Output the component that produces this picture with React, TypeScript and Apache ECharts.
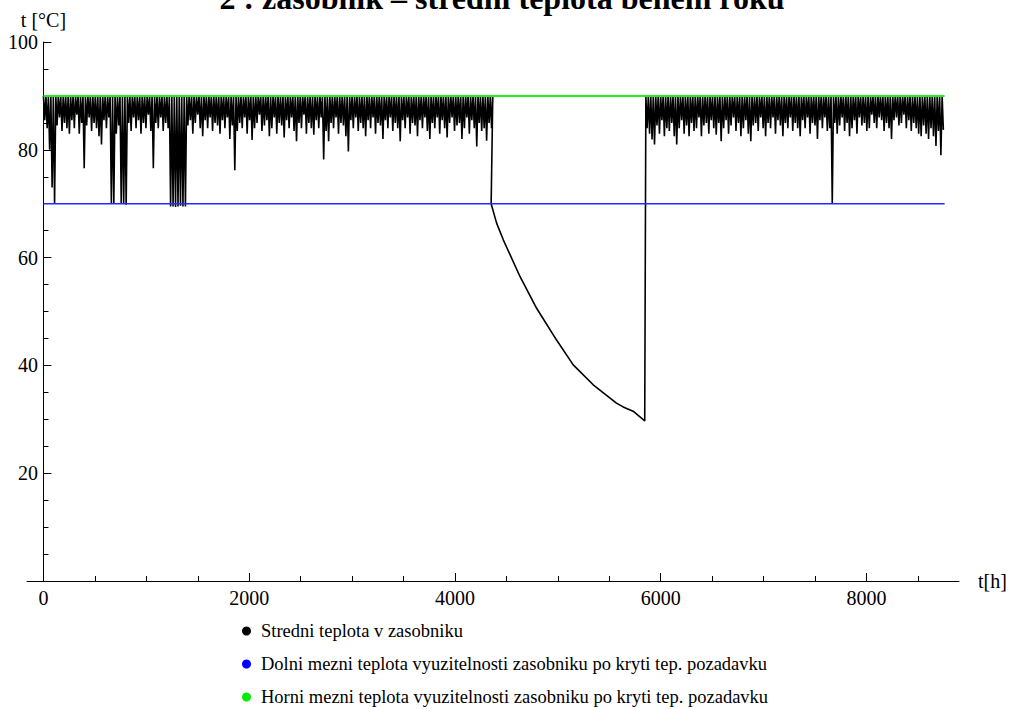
import React, { useEffect, useRef } from "react";
import * as echarts from "echarts";

const TITLE = "2 : zasobnik – stredni teplota behem roku";
const SERIES_NAMES = [
  "Stredni teplota v zasobniku",
  "Dolni mezni teplota vyuzitelnosti zasobniku po kryti tep. pozadavku",
  "Horni mezni teplota vyuzitelnosti zasobniku po kryti tep. pozadavku",
];
const UPPER = 90;
const LOWER = 70;
const YEAR_END = 8760;
const HOURS_PER_DAY = 24;

// daily minimum temperatures, first period (days 0..181)
const SEG1_FIRST_DAY = 0;
const seg1Lows = [
  85.5, 84.0, 80.0, 73.0, 70.0, 84.5, 86.0, 83.5, 85.0, 84.0,
  83.0, 85.5, 84.0, 86.5, 83.0, 85.0, 76.6, 84.5, 86.0, 83.5,
  85.0, 84.0, 82.5, 81.0, 85.5, 84.0, 86.0, 70.0, 70.0, 83.0,
  84.5, 70.0, 70.0, 69.8, 85.0, 83.5, 86.0, 84.0, 85.5, 83.0,
  85.0, 84.0, 86.5, 83.5, 76.6, 85.0, 84.0, 86.0, 83.5, 85.0,
  84.0, 69.5, 69.5, 69.4, 69.5, 69.6, 69.5, 69.5, 84.5, 85.5,
  83.0, 85.0, 86.5, 84.0, 82.5, 85.5, 84.0, 86.0, 83.5, 85.0,
  84.5, 83.0, 85.5, 84.0, 86.0, 82.0, 84.5, 76.2, 83.5, 85.0,
  84.0, 86.0, 83.0, 85.5, 81.8, 84.0, 85.0, 86.5, 83.5, 84.5,
  85.5, 82.5, 84.0, 86.0, 83.0, 85.0, 84.5, 82.3, 85.5, 84.0,
  86.0, 83.5, 81.6, 85.0, 84.0, 86.5, 83.0, 85.0, 84.0, 82.8,
  85.5, 84.0, 86.0, 78.2, 83.5, 81.6, 85.0, 84.0, 86.0, 83.0,
  85.0, 84.5, 82.5, 79.7, 85.5, 84.0, 86.0, 83.5, 85.0, 84.0,
  82.5, 85.5, 84.0, 86.0, 83.0, 85.0, 84.5, 82.0, 85.5, 84.0,
  86.0, 83.5, 85.0, 84.0, 81.6, 85.5, 84.0, 86.0, 83.0, 85.0,
  84.5, 82.5, 85.5, 84.0, 86.0, 83.5, 82.0, 85.0, 84.0, 86.0,
  83.0, 85.5, 84.0, 82.3, 85.0, 86.0, 83.5, 84.5, 85.0, 82.0,
  84.0, 86.0, 83.0, 85.5, 84.0, 80.6, 85.0, 83.5, 84.0, 81.7,
  85.0, 84.0,
];

// cooling period without recharge
const decayHours = [4352, 4405, 4470, 4632, 4794, 4988, 5150, 5344, 5570, 5635, 5732, 5845];
const decayTemps = [70.0, 66.4, 63.3, 56.5, 50.6, 44.7, 40.1, 36.4, 33.0, 32.3, 31.5, 29.7];

// daily minimum temperatures, last period (days 244..364)
const SEG3_FIRST_DAY = 244;
const seg3Lows = [
  84.0, 83.0, 81.9, 81.0, 84.5, 83.0, 85.5, 82.5, 84.0, 83.5,
  85.0, 82.5, 81.0, 84.0, 85.5, 83.0, 84.5, 82.5, 85.0, 83.5,
  84.0, 86.0, 82.5, 84.5, 85.0, 83.0, 85.5, 84.0, 82.8, 85.0,
  81.6, 84.0, 85.5, 83.0, 84.5, 86.0, 83.5, 85.0, 82.5, 84.0,
  85.5, 83.0, 81.6, 84.5, 85.0, 83.5, 86.0, 84.0, 82.5, 85.0,
  84.0, 86.0, 83.0, 85.5, 84.5, 82.5, 85.0, 84.0, 86.0, 83.5,
  85.0, 84.0, 82.5, 85.5, 84.0, 86.0, 83.0, 85.0, 84.5, 82.0,
  85.5, 84.0, 86.0, 83.5, 84.0, 70.0, 85.0, 83.0, 84.5, 86.0,
  83.5, 85.0, 82.5, 84.0, 85.5, 83.0, 86.0, 84.5, 85.0, 83.5,
  84.0, 86.5, 85.0, 84.0, 86.0, 85.5, 83.5, 85.0, 84.0, 82.0,
  85.5, 86.0, 84.5, 85.0, 86.5, 84.0, 85.5, 83.5, 85.0, 84.0,
  83.0, 82.5, 84.5, 83.0, 82.0, 84.0, 82.5, 80.7, 83.5, 79.0,
  83.7,
];

const X_LABELS = [0, 2000, 4000, 6000, 8000];
const X_MINOR = [0, 500, 1000, 1500, 2000, 2500, 3000, 3500, 4000, 4500, 5000, 5500, 6000, 6500, 7000, 7500, 8000, 8500];

function buildTemperature(): number[][] {
  const pts: number[][] = [];
  seg1Lows.forEach((low, i) => {
    const h = (SEG1_FIRST_DAY + i) * HOURS_PER_DAY;
    pts.push([h, UPPER]);
    pts.push([h + HOURS_PER_DAY / 2, low]);
  });
  pts.push([(SEG1_FIRST_DAY + seg1Lows.length) * HOURS_PER_DAY, UPPER]);
  decayHours.forEach((h, i) => pts.push([h, decayTemps[i]]));
  seg3Lows.forEach((low, i) => {
    const h = (SEG3_FIRST_DAY + i) * HOURS_PER_DAY;
    pts.push([h, UPPER]);
    pts.push([h + HOURS_PER_DAY / 2, low]);
  });
  return pts;
}

const FONT = '"Liberation Serif", "Times New Roman", serif';

export default function App() {
  const ref = useRef<HTMLDivElement>(null);
  useEffect(() => {
    if (!ref.current) return;
    const chart = echarts.init(ref.current, undefined, { renderer: "svg" });
    const axisColor = "#000";
    chart.setOption({
      animation: false,
      backgroundColor: "#fff",
      grid: { left: 27, right: 52, top: 42, bottom: 128, containLabel: false, outerBoundsMode: "none" },
      graphic: [
        {
          type: "text",
          x: 502,
          y: 14,
          style: {
            text: TITLE,
            font: `bold 32px ${FONT}`,
            fill: "#000",
            align: "center",
            verticalAlign: "bottom",
          },
        },
      ],
      legend: {
        orient: "vertical",
        left: 242,
        top: 621,
        padding: 0,
        itemWidth: 9,
        itemHeight: 9,
        itemGap: 13,
        icon: "circle",
        data: SERIES_NAMES,
        textStyle: { fontFamily: FONT, fontSize: 18.5, color: "#000", lineHeight: 20, padding: [0, 0, 0, 5] },
      },
      xAxis: [
        {
          type: "value",
          min: -160,
          max: 8900,
          position: "bottom",
          axisLine: { show: true, onZero: true, lineStyle: { color: axisColor, width: 1 } },
          axisTick: { show: true, inside: true, length: 5, customValues: X_MINOR, lineStyle: { color: axisColor } },
          axisLabel: {
            customValues: X_LABELS,
            color: "#000",
            fontFamily: FONT,
            fontSize: 20,
            margin: 7,
            formatter: (v: number) => String(v),
          },
          splitLine: { show: false },
          name: "t[h]",
          nameLocation: "end",
          nameGap: 19,
          nameTextStyle: { fontFamily: FONT, fontSize: 20, color: "#000", verticalAlign: "middle" },
        },
        {
          type: "value",
          min: -160,
          max: 8900,
          position: "bottom",
          axisLine: { show: false },
          axisTick: { show: true, inside: true, length: 8, customValues: X_LABELS, lineStyle: { color: axisColor } },
          axisLabel: { show: false },
          splitLine: { show: false },
        },
      ],
      yAxis: {
        type: "value",
        min: 0,
        max: 100,
        interval: 20,
        axisLine: { show: true, onZero: true, lineStyle: { color: axisColor, width: 1 } },
        axisTick: { show: true, inside: true, length: 8, lineStyle: { color: axisColor } },
        minorTick: { show: true, splitNumber: 4, length: 5, lineStyle: { color: axisColor } },
        axisLabel: {
          color: "#000",
          fontFamily: FONT,
          fontSize: 20,
          margin: -11,
          formatter: (v: number) => (v === 0 ? "" : String(v)),
        },
        splitLine: { show: false },
        minorSplitLine: { show: false },
        name: "t [°C]",
        nameLocation: "end",
        nameGap: 12,
        nameTextStyle: { fontFamily: FONT, fontSize: 20, color: "#000" },
      },
      series: [
        {
          name: SERIES_NAMES[0],
          type: "line",
          data: buildTemperature(),
          showSymbol: false,
          color: "#000",
          lineStyle: { color: "#000", width: 1.6 },
          z: 2,
        },
        {
          name: SERIES_NAMES[1],
          type: "line",
          data: [[0, LOWER], [YEAR_END, LOWER]],
          showSymbol: false,
          color: "#0000ff",
          lineStyle: { color: "#2a2aff", width: 1.5 },
          z: 3,
        },
        {
          name: SERIES_NAMES[2],
          type: "line",
          data: [[0, UPPER], [YEAR_END, UPPER]],
          showSymbol: false,
          color: "#00ee00",
          lineStyle: { color: "#22ee22", width: 2 },
          z: 4,
        },
      ],
    });
    return () => chart.dispose();
  }, []);
  return <div ref={ref} style={{ position: "fixed", left: 0, top: 0, width: 1011, height: 709 }} />;
}
